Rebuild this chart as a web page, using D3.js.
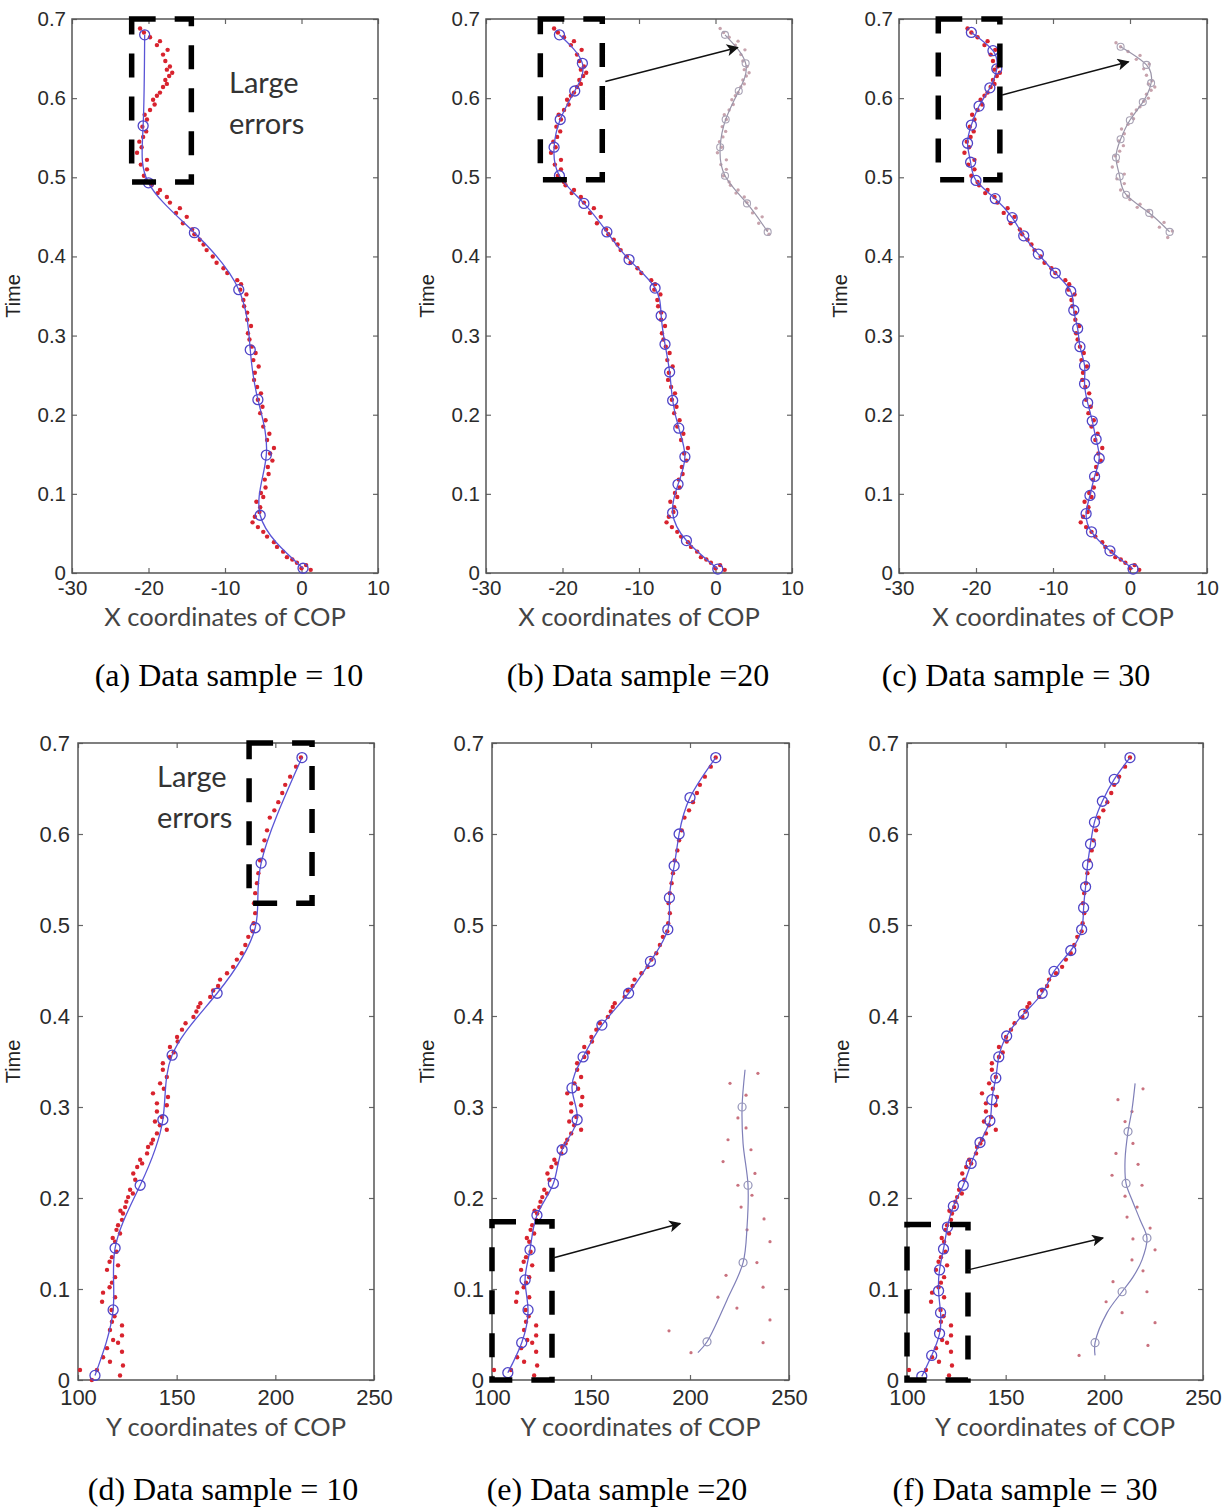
<!DOCTYPE html>
<html><head><meta charset="utf-8">
<script src="https://cdn.jsdelivr.net/npm/d3@7"></script>
<style>body{margin:0;background:#fff}svg{display:block}</style>
</head><body>
<svg id="chart" width="1229" height="1508"></svg>
<script>
// ---------- data ----------
const timeTicks = [0, 0.1, 0.2, 0.3, 0.4, 0.5, 0.6, 0.7];
const xCopTicks = [-30, -20, -10, 0, 10];
const yCopTicks = [100, 150, 200, 250];

// COP X samples: [time, x]
const copXData = [[0.004,1.2],[0.006,0.0],[0.010,0.6],[0.013,-0.6],[0.017,-1.2],[0.020,-1.9],[0.027,-2.4],[0.033,-3.2],[0.039,-3.6],[0.046,-4.5],[0.052,-5.0],[0.058,-5.7],[0.064,-6.4],[0.071,-6.1],[0.077,-5.5],[0.083,-5.4],[0.090,-5.9],[0.096,-5.0],[0.101,-5.3],[0.108,-4.7],[0.118,-4.8],[0.125,-4.3],[0.134,-4.4],[0.142,-3.8],[0.151,-4.1],[0.158,-3.6],[0.168,-4.5],[0.176,-4.2],[0.185,-5.0],[0.193,-4.7],[0.202,-5.4],[0.210,-5.1],[0.219,-5.7],[0.227,-5.3],[0.235,-5.8],[0.244,-6.2],[0.253,-6.1],[0.261,-5.6],[0.269,-6.3],[0.278,-6.0],[0.286,-6.5],[0.295,-6.8],[0.303,-7.0],[0.312,-6.6],[0.320,-7.1],[0.329,-7.1],[0.337,-7.5],[0.345,-7.6],[0.352,-7.2],[0.358,-8.0],[0.365,-7.9],[0.370,-8.4],[0.379,-9.7],[0.385,-10.2],[0.392,-11.1],[0.400,-11.6],[0.408,-12.4],[0.415,-12.8],[0.421,-13.3],[0.428,-14.0],[0.434,-14.3],[0.442,-15.5],[0.450,-15.0],[0.455,-16.4],[0.461,-15.9],[0.468,-17.2],[0.475,-17.6],[0.480,-18.8],[0.484,-18.5],[0.490,-19.6],[0.494,-19.8],[0.502,-20.6],[0.510,-20.2],[0.516,-21.0],[0.522,-20.2],[0.531,-21.5],[0.538,-20.9],[0.545,-21.2],[0.551,-20.7],[0.558,-20.3],[0.564,-20.8],[0.573,-20.2],[0.579,-20.5],[0.585,-19.8],[0.592,-19.2],[0.598,-19.4],[0.603,-18.9],[0.607,-18.5],[0.614,-18.1],[0.618,-17.6],[0.623,-17.8],[0.628,-17.3],[0.632,-16.9],[0.636,-17.6],[0.640,-17.2],[0.647,-17.8],[0.655,-18.1],[0.661,-17.5],[0.667,-18.9],[0.672,-18.5],[0.677,-19.8],[0.683,-20.6],[0.688,-21.1]];

// COP Y samples: [time, y]
const copYData = [[0.000,107.0],[0.005,121.3],[0.011,101.0],[0.011,109.6],[0.016,122.8],[0.020,116.2],[0.025,112.7],[0.031,122.3],[0.035,114.7],[0.041,120.3],[0.044,117.8],[0.049,122.3],[0.055,116.2],[0.060,122.3],[0.064,117.2],[0.070,118.5],[0.077,117.0],[0.086,112.2],[0.091,118.8],[0.096,112.7],[0.102,116.0],[0.107,117.2],[0.113,118.8],[0.121,114.7],[0.126,120.3],[0.130,116.0],[0.135,117.2],[0.141,119.5],[0.152,118.8],[0.156,117.6],[0.161,121.3],[0.165,119.5],[0.170,120.3],[0.176,122.3],[0.183,122.8],[0.186,121.5],[0.190,123.9],[0.196,124.5],[0.201,125.4],[0.205,127.8],[0.209,126.4],[0.220,129.0],[0.227,128.0],[0.234,130.0],[0.238,132.5],[0.242,131.5],[0.249,135.0],[0.256,135.5],[0.260,137.2],[0.264,138.0],[0.271,140.0],[0.275,145.0],[0.280,141.5],[0.284,139.0],[0.289,142.6],[0.295,140.0],[0.302,145.0],[0.304,140.0],[0.311,145.6],[0.315,138.0],[0.320,143.5],[0.326,141.6],[0.333,145.0],[0.341,143.0],[0.348,143.0],[0.355,146.6],[0.360,148.5],[0.366,146.6],[0.372,150.5],[0.377,150.2],[0.385,152.7],[0.392,154.5],[0.399,158.5],[0.405,160.0],[0.410,161.0],[0.414,162.0],[0.421,167.0],[0.428,168.5],[0.433,171.0],[0.440,172.0],[0.447,175.5],[0.454,178.6],[0.462,180.5],[0.469,183.0],[0.478,184.8],[0.487,186.3],[0.493,188.5],[0.502,189.0],[0.513,189.8],[0.524,189.2],[0.535,189.8],[0.546,190.7],[0.557,191.4],[0.571,192.3],[0.582,193.6],[0.593,194.5],[0.604,195.8],[0.618,197.2],[0.626,199.5],[0.635,201.5],[0.645,203.5],[0.654,205.0],[0.663,207.5],[0.674,210.5],[0.684,213.0]];

// fitted knots [time, value]
const knotsA = [[0.006,0.2],[0.073,-5.4],[0.149,-4.6],[0.219,-5.7],[0.282,-6.7],[0.358,-8.2],[0.430,-14.0],[0.493,-20.0],[0.565,-20.7],[0.680,-20.5]];
const knotsB = [[0.005,0.3],[0.041,-3.8],[0.076,-5.6],[0.112,-4.9],[0.147,-4.0],[0.183,-4.8],[0.218,-5.6],[0.254,-6.0],[0.289,-6.6],[0.325,-7.1],[0.360,-7.9],[0.396,-11.3],[0.431,-14.2],[0.467,-17.2],[0.502,-20.4],[0.538,-21.1],[0.573,-20.3],[0.609,-18.4],[0.644,-17.4],[0.680,-20.4]];
const knotsC = [[0.005,0.4],[0.028,-2.6],[0.052,-5.0],[0.075,-5.7],[0.098,-5.2],[0.122,-4.6],[0.145,-4.0],[0.169,-4.4],[0.192,-4.9],[0.215,-5.5],[0.239,-5.9],[0.262,-5.9],[0.286,-6.5],[0.309,-6.8],[0.332,-7.3],[0.356,-7.7],[0.379,-9.7],[0.403,-11.9],[0.426,-13.8],[0.449,-15.3],[0.473,-17.5],[0.496,-20.0],[0.519,-20.7],[0.543,-21.1],[0.566,-20.6],[0.590,-19.6],[0.613,-18.2],[0.637,-17.3],[0.660,-17.8],[0.683,-20.6]];
const knotsD = [[0.005,108.6],[0.077,117.8],[0.145,118.8],[0.214,131.5],[0.286,143.0],[0.357,147.7],[0.425,170.5],[0.497,189.8],[0.568,192.8],[0.684,213.5]];
const knotsE = [[0.008,108.0],[0.041,115.0],[0.077,118.2],[0.110,116.7],[0.143,119.2],[0.181,122.7],[0.216,131.0],[0.253,135.4],[0.286,143.0],[0.321,140.4],[0.355,146.0],[0.390,155.5],[0.425,169.0],[0.460,180.0],[0.495,188.8],[0.530,189.6],[0.565,192.0],[0.600,194.5],[0.640,200.0],[0.684,213.0]];
const knotsF = [[0.004,107.5],[0.027,112.5],[0.051,116.5],[0.074,117.0],[0.098,116.0],[0.121,116.5],[0.144,118.5],[0.168,120.5],[0.191,123.5],[0.214,128.5],[0.238,132.5],[0.261,137.0],[0.285,142.0],[0.308,143.0],[0.332,145.0],[0.355,146.5],[0.378,150.5],[0.402,159.0],[0.425,168.5],[0.449,174.5],[0.472,183.0],[0.495,188.5],[0.519,189.5],[0.542,190.5],[0.566,191.5],[0.589,193.0],[0.613,195.0],[0.636,199.0],[0.660,205.0],[0.684,213.0]];

// zoomed insets of panels (e) and (f), read in the panel's own axis units
const insetEDots = [[0.337,234.3],[0.326,220.2],[0.313,228.3],[0.288,224.2],[0.277,228.3],[0.264,219.2],[0.253,230.8],[0.240,216.7],[0.227,232.8],[0.214,224.2],[0.203,231.3],[0.190,225.8],[0.177,237.4],[0.165,228.8],[0.152,240.4],[0.129,233.8],[0.115,218.2],[0.102,236.9],[0.091,214.1],[0.079,223.7],[0.066,240.4],[0.054,189.4],[0.041,236.9],[0.030,200.5]];
const insetECurve = [[0.030,204.0],[0.042,208.6],[0.088,218.7],[0.129,226.8],[0.168,228.8],[0.214,229.3],[0.260,226.8],[0.300,226.3],[0.341,227.8]];
const insetEKnots = [[0.042,208.6],[0.129,226.8],[0.214,229.3],[0.300,226.3]];
const insetFDots = [[0.320,219.6],[0.308,206.9],[0.295,214.0],[0.284,210.5],[0.260,214.5],[0.249,205.9],[0.237,217.1],[0.225,203.9],[0.214,219.1],[0.202,210.5],[0.190,216.6],[0.179,211.5],[0.167,223.2],[0.155,214.5],[0.143,225.7],[0.132,214.0],[0.120,219.6],[0.108,204.4],[0.097,221.6],[0.086,200.9],[0.074,209.0],[0.063,225.7],[0.038,222.1],[0.027,187.2]];
const insetFCurve = [[0.027,195.3],[0.041,195.3],[0.074,201.4],[0.097,209.0],[0.113,214.5],[0.132,219.1],[0.156,221.6],[0.176,218.1],[0.198,214.0],[0.216,211.0],[0.242,210.5],[0.273,212.0],[0.297,214.0],[0.326,215.6]];
const insetFKnots = [[0.041,195.3],[0.097,209.0],[0.156,221.6],[0.216,211.0],[0.273,212.0]];

// annotation boxes [xMin, xMax, tMin, tMax] and arrows [[t0,v0],[t1,v1]]
const boxA = [-22.2, -14.4, 0.494, 0.7];
const boxB = [-22.9, -14.8, 0.497, 0.7];
const boxC = [-24.9, -16.9, 0.497, 0.7];
const boxD = [186.7, 218.6, 0.524, 0.7];
const boxE = [100, 130.3, 0, 0.174];
const boxF = [100, 130.9, 0, 0.171];
const arrowB = [[0.621,-14.4],[0.664,2.9]];
const arrowC = [[0.604,-16.6],[0.646,-0.2]];
const arrowE = [[0.134,130.8],[0.172,195.0]];
const arrowF = [[0.121,130.9],[0.156,199.3]];

const captions = ["(a) Data sample = 10","(b) Data sample =20","(c) Data sample = 30","(d) Data sample = 10","(e) Data sample =20","(f) Data sample = 30"];
const noteLines = ["Large","errors"];

// ---------- layout ----------
const panels = [
  {r:[72,378,19,573], xd:[-30,10], xt:xCopTicks, xl:"X coordinates of COP", data:copXData, knots:knotsA, cap:captions[0], cx:229, cy:686, box:boxA, note:[229,93]},
  {r:[486,792,19,573], xd:[-30,10], xt:xCopTicks, xl:"X coordinates of COP", data:copXData, knots:knotsB, cap:captions[1], cx:638, cy:686, box:boxB, arrow:arrowB, shiftInset:{t:[0.425,0.69], a:19.6, b:0.9, tb:1.0, to:0}},
  {r:[899,1207,19,573], xd:[-30,10], xt:xCopTicks, xl:"X coordinates of COP", data:copXData, knots:knotsC, cap:captions[2], cx:1016, cy:686, box:boxC, arrow:arrowC, shiftInset:{t:[0.44,0.69], a:23.5, b:1.2, tb:1.0, to:-0.018}},
  {r:[78,374,743,1380], xd:[100,250], xt:yCopTicks, xl:"Y coordinates of COP", data:copYData, knots:knotsD, cap:captions[3], cx:223, cy:1500, box:boxD, note:[157,787]},
  {r:[492,789,743,1380], xd:[100,250], xt:yCopTicks, xl:"Y coordinates of COP", data:copYData, knots:knotsE, cap:captions[4], cx:617, cy:1500, box:boxE, arrow:arrowE, ownInset:{dots:insetEDots, curve:insetECurve, knots:insetEKnots}},
  {r:[907,1203,743,1380], xd:[100,250], xt:yCopTicks, xl:"Y coordinates of COP", data:copYData, knots:knotsF, cap:captions[5], cx:1025, cy:1500, box:boxF, arrow:arrowF, ownInset:{dots:insetFDots, curve:insetFCurve, knots:insetFKnots}}
];

const svg = d3.select("#chart");
svg.append("defs").append("marker").attr("id","ah").attr("viewBox","0 0 10 10")
  .attr("refX",9).attr("refY",5).attr("markerWidth",10).attr("markerHeight",8)
  .attr("orient","auto").append("path").attr("d","M0,0 L10,5 L0,10 L2.5,5 z").attr("fill","#111");

const RED = "#d8232e", BLUE = "#5a55d6", CIRC = "#4f45c8";

panels.forEach((p, i) => {
  const top = i < 3;
  const [x0,x1,y0,y1] = p.r;
  const xs = d3.scaleLinear().domain(p.xd).range([x0,x1]);
  const ys = d3.scaleLinear().domain([0,0.7]).range([y1,y0]);
  const g = svg.append("g");
  const fmt = d => String(d);
  const tickFont = top ? 20.5 : 22;

  // axes
  g.append("g").attr("transform",`translate(${x0},0)`)
    .call(d3.axisLeft(ys).tickValues(timeTicks).tickFormat(fmt).tickSize(-5).tickPadding(top ? 6 : 8));
  g.append("g").attr("transform",`translate(0,${y1})`)
    .call(d3.axisBottom(xs).tickValues(p.xt).tickFormat(fmt).tickSize(-5).tickPadding(top ? 7 : 9));
  g.append("g").attr("transform",`translate(${x1},0)`)
    .call(d3.axisRight(ys).tickValues(timeTicks).tickFormat("").tickSize(-5));
  g.append("g").attr("transform",`translate(0,${y0})`)
    .call(d3.axisTop(xs).tickValues(p.xt).tickFormat("").tickSize(-5));
  g.selectAll(".domain").remove();
  g.selectAll(".tick line").attr("stroke","#666").attr("stroke-width",1.2);
  g.selectAll(".tick text").attr("font-family","Liberation Sans, Arial, sans-serif")
    .attr("font-size",tickFont).attr("fill","#2b2b2b");
  g.append("rect").attr("x",x0).attr("y",y0).attr("width",x1-x0).attr("height",y1-y0)
    .attr("fill","none").attr("stroke","#555").attr("stroke-width",1.5);

  // titles
  const tx = x0 - (top ? 52 : 58);
  g.append("text").attr("transform",`translate(${tx},${(y0+y1)/2}) rotate(-90)`)
    .attr("text-anchor","middle").attr("font-family","Liberation Sans, Arial, sans-serif")
    .attr("font-size",20).attr("fill","#222").text("Time");
  g.append("text").attr("x",(x0+x1)/2).attr("y",y1+(top ? 53 : 56)).attr("text-anchor","middle")
    .attr("font-family","Lato, 'Open Sans', sans-serif").attr("font-size",25.5).attr("fill","#444")
    .text(p.xl);
  g.append("text").attr("x",p.cx).attr("y",p.cy).attr("text-anchor","middle")
    .attr("font-family","'Liberation Serif', 'Times New Roman', serif").attr("font-size",32)
    .attr("fill","#000").text(p.cap);

  // data samples
  g.append("g").selectAll("circle").data(p.data).join("circle")
    .attr("cx",d=>xs(d[1])).attr("cy",d=>ys(d[0])).attr("r",2.2).attr("fill",RED);

  // fitted curve
  const line = d3.line().x(d=>xs(d[1])).y(d=>ys(d[0])).curve(d3.curveNatural);
  const cline = d3.line().x(d=>xs(d[1])).y(d=>ys(d[0])).curve(d3.curveCatmullRom.alpha(0.5));
  g.append("path").attr("d",line(p.knots)).attr("fill","none").attr("stroke",BLUE).attr("stroke-width",1.3);
  g.append("g").selectAll("circle").data(p.knots).join("circle")
    .attr("cx",d=>xs(d[1])).attr("cy",d=>ys(d[0])).attr("r",5).attr("fill","none")
    .attr("stroke",CIRC).attr("stroke-width",1.3);

  // insets
  if (p.shiftInset) {
    const s = p.shiftInset;
    const ix = v => xs(s.a + s.b*v);
    const iy = t => ys(t*s.tb + s.to);
    const inR = d => d[0] >= s.t[0] && d[0] <= s.t[1];
    g.append("g").selectAll("circle").data(p.data.filter(inR)).join("circle")
      .attr("cx",d=>ix(d[1])).attr("cy",d=>iy(d[0])).attr("r",1.7).attr("fill","#c7a3ad");
    const kn = p.knots.filter(inR);
    const il = d3.line().x(d=>ix(d[1])).y(d=>iy(d[0])).curve(d3.curveNatural);
    g.append("path").attr("d",il(kn)).attr("fill","none").attr("stroke","#9a94a8").attr("stroke-width",1.2);
    g.append("g").selectAll("circle").data(kn).join("circle")
      .attr("cx",d=>ix(d[1])).attr("cy",d=>iy(d[0])).attr("r",3.5).attr("fill","none")
      .attr("stroke","#a8a2b4").attr("stroke-width",1.1);
  }
  if (p.ownInset) {
    const s = p.ownInset;
    g.append("g").selectAll("circle").data(s.dots).join("circle")
      .attr("cx",d=>xs(d[1])).attr("cy",d=>ys(d[0])).attr("r",1.6).attr("fill","#c9727f");
    g.append("path").attr("d",cline(s.curve)).attr("fill","none").attr("stroke","#7f7fb8").attr("stroke-width",1.2);
    g.append("g").selectAll("circle").data(s.knots).join("circle")
      .attr("cx",d=>xs(d[1])).attr("cy",d=>ys(d[0])).attr("r",4).attr("fill","none")
      .attr("stroke","#9494b8").attr("stroke-width",1.2);
  }

  // dashed box
  const b = p.box;
  const bx0 = xs(b[0]), bx1 = xs(b[1]), by0 = ys(b[3]), by1 = ys(b[2]);
  g.append("path").attr("d",`M${bx0},${by0}H${bx1}V${by1}H${bx0}Z`)
    .attr("fill","none").attr("stroke","#000").attr("stroke-width",5.5)
    .attr("stroke-dasharray","24,19");

  // arrow
  if (p.arrow) {
    const a = p.arrow;
    g.append("line").attr("x1",xs(a[0][1])).attr("y1",ys(a[0][0]))
      .attr("x2",xs(a[1][1])).attr("y2",ys(a[1][0]))
      .attr("stroke","#111").attr("stroke-width",1.5).attr("marker-end","url(#ah)");
  }

  // note
  if (p.note) {
    const t = g.append("text").attr("font-family","Lato, 'Open Sans', sans-serif")
      .attr("font-size",29).attr("fill","#333");
    noteLines.forEach((s,k)=>t.append("tspan").attr("x",p.note[0]).attr("y",p.note[1]+k*41).text(s));
  }
});
</script>
</body></html>
